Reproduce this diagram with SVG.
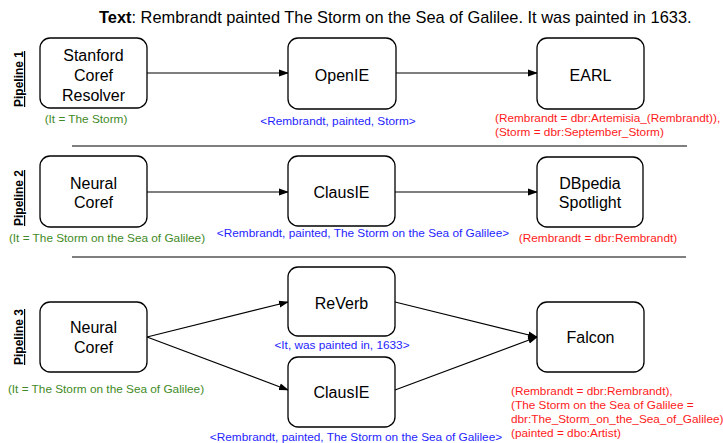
<svg xmlns="http://www.w3.org/2000/svg" width="723" height="443" viewBox="0 0 723 443">
<style>
text{font-family:"Liberation Sans",Arial,sans-serif}
.node rect{fill:#fff;stroke:#000;stroke-width:1.3}
.node text{font-size:16px;text-anchor:middle;fill:#000}
.lbl{font-size:11.8px}
.g{fill:#3f8a26}
.b{fill:#1e1eff}
.r{fill:#ff1a1a}
.pl{font-size:12px;font-weight:bold;text-decoration:underline;text-anchor:middle}
.c line{stroke:#000;stroke-width:1.2;marker-end:url(#ah)}
.sep{stroke:#000;stroke-width:1.2}
</style>
<defs>
<marker id="ah" markerWidth="10" markerHeight="8" refX="9" refY="4" orient="auto" markerUnits="userSpaceOnUse">
<path d="M0,0.5 L10,4 L0,7.5 Z" fill="#000"/>
</marker>
</defs>
<rect width="723" height="443" fill="#fff"/>
<text x="99" y="23" font-size="16.4"><tspan font-weight="bold">Text</tspan>: Rembrandt painted The Storm on the Sea of Galilee. It was painted in 1633.</text>

<text class="pl" transform="translate(23,79) rotate(-90)">Pipeline 1</text>
<text class="pl" transform="translate(23,198) rotate(-90)">Pipeline 2</text>
<text class="pl" transform="translate(23,337) rotate(-90)">Pipeline 3</text>

<line class="sep" x1="72" y1="146" x2="687" y2="146"/>
<line class="sep" x1="72" y1="257" x2="686" y2="257"/>

<g class="c">
<line x1="147" y1="73" x2="288" y2="73"/>
<line x1="396" y1="73" x2="537" y2="73"/>
<line x1="147" y1="192" x2="288" y2="192"/>
<line x1="395" y1="192" x2="537" y2="192"/>
<line x1="147" y1="337" x2="288" y2="302"/>
<line x1="147" y1="337" x2="288" y2="390"/>
<line x1="395" y1="302" x2="537" y2="337"/>
<line x1="395" y1="390" x2="537" y2="337"/>
</g>

<g id="stanford" class="node"><rect x="40" y="38" width="107" height="70" rx="10"/>
<text x="93.5" y="61">Stanford</text><text x="93.5" y="81">Coref</text><text x="93.5" y="101">Resolver</text></g>
<g id="openie" class="node"><rect x="288" y="38" width="108" height="71" rx="10"/><text x="342" y="81">OpenIE</text></g>
<g id="earl" class="node"><rect x="537" y="38" width="107" height="71" rx="10"/><text x="590.5" y="81">EARL</text></g>

<g id="neural2" class="node"><rect x="40" y="156" width="107" height="71" rx="10"/>
<text x="93.5" y="189">Neural</text><text x="93.5" y="208">Coref</text></g>
<g id="clausie2" class="node"><rect x="288" y="156" width="107" height="70" rx="10"/><text x="341.5" y="198">ClausIE</text></g>
<g id="dbpedia" class="node"><rect x="537" y="157" width="106" height="70" rx="10"/>
<text x="590" y="189">DBpedia</text><text x="590" y="208">Spotlight</text></g>

<g id="neural3" class="node"><rect x="40" y="302" width="107" height="70" rx="10"/>
<text x="93.5" y="333">Neural</text><text x="93.5" y="353">Coref</text></g>
<g id="reverb" class="node"><rect x="288" y="267" width="107" height="69" rx="10"/><text x="341.5" y="309">ReVerb</text></g>
<g id="clausie3" class="node"><rect x="288" y="357" width="107" height="70" rx="10"/><text x="341.5" y="398">ClausIE</text></g>
<g id="falcon" class="node"><rect x="537" y="302" width="107" height="70" rx="10"/><text x="590.5" y="343">Falcon</text></g>

<text class="lbl g" x="86" y="123" text-anchor="middle">(It = The Storm)</text>
<text class="lbl b" x="338" y="125" text-anchor="middle">&lt;Rembrandt, painted, Storm&gt;</text>
<text class="lbl r" x="495" y="122">(Rembrandt = dbr:Artemisia_(Rembrandt)),</text>
<text class="lbl r" x="495" y="136">(Storm = dbr:September_Storm)</text>

<text class="lbl g" x="107" y="242" text-anchor="middle">(It = The Storm on the Sea of Galilee)</text>
<text class="lbl b" x="363" y="237" text-anchor="middle">&lt;Rembrandt, painted, The Storm on the Sea of Galilee&gt;</text>
<text class="lbl r" x="598" y="242" text-anchor="middle">(Rembrandt = dbr:Rembrandt)</text>

<text class="lbl g" x="106" y="393" text-anchor="middle">(It = The Storm on the Sea of Galilee)</text>
<text class="lbl b" x="342" y="349" text-anchor="middle">&lt;It, was painted in, 1633&gt;</text>
<text class="lbl b" x="356" y="441" text-anchor="middle">&lt;Rembrandt, painted, The Storm on the Sea of Galilee&gt;</text>
<text class="lbl r" x="511" y="395">(Rembrandt = dbr:Rembrandt),</text>
<text class="lbl r" x="511" y="409">(The Storm on the Sea of Galilee =</text>
<text class="lbl r" x="511" y="423" font-size="11px">dbr:The_Storm_on_the_Sea_of_Galilee)</text>
<text class="lbl r" x="511" y="437">(painted = dbo:Artist)</text>
</svg>
